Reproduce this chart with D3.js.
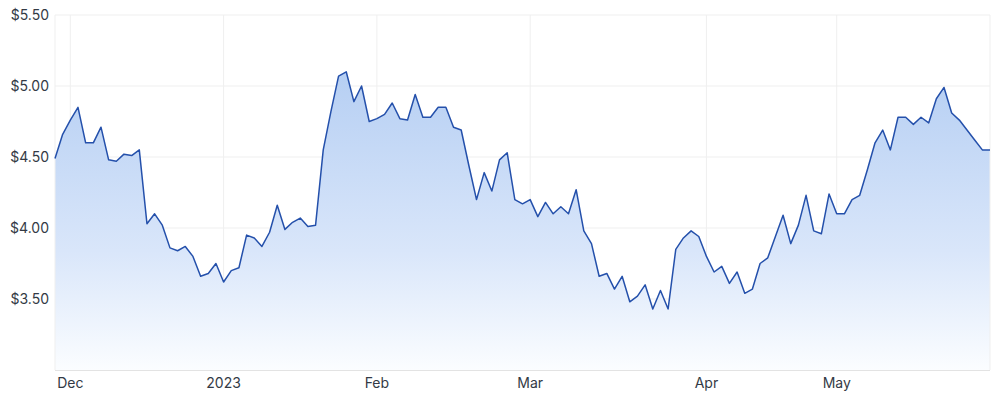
<!DOCTYPE html>
<html>
<head>
<meta charset="utf-8">
<script src="https://cdn.jsdelivr.net/npm/d3@7"></script>
<style>
  html, body { margin: 0; padding: 0; background: #ffffff; }
  svg { display: block; font-family: Inter, "Noto Sans", sans-serif; }
</style>
</head>
<body>
<svg id="chart" width="1000" height="402"></svg>
<script>
// Daily closing prices (ASX trading days, 29 Nov 2022 – 29 May 2023)
const prices = [
  4.49, 4.66, 4.76, 4.85, 4.60, 4.60, 4.71, 4.48, 4.47, 4.52,
  4.51, 4.55, 4.03, 4.10, 4.02, 3.86, 3.84, 3.87, 3.80, 3.66,
  3.68, 3.75, 3.62, 3.70, 3.72, 3.95, 3.93, 3.87, 3.97, 4.16,
  3.99, 4.04, 4.07, 4.01, 4.02, 4.55, 4.82, 5.07, 5.10, 4.89,
  5.00, 4.75, 4.77, 4.80, 4.88, 4.77, 4.76, 4.94, 4.78, 4.78,
  4.85, 4.85, 4.71, 4.69, 4.44, 4.20, 4.39, 4.26, 4.48, 4.53,
  4.20, 4.17, 4.20, 4.08, 4.18, 4.10, 4.15, 4.10, 4.27, 3.98,
  3.89, 3.66, 3.68, 3.57, 3.66, 3.48, 3.52, 3.60, 3.43, 3.56,
  3.43, 3.85, 3.93, 3.98, 3.94, 3.80, 3.69, 3.73, 3.61, 3.69,
  3.54, 3.57, 3.75, 3.79, 3.94, 4.09, 3.89, 4.02, 4.23, 3.98,
  3.96, 4.24, 4.10, 4.10, 4.20, 4.23, 4.41, 4.60, 4.69, 4.55,
  4.78, 4.78, 4.73, 4.78, 4.74, 4.91, 4.99, 4.81, 4.76, 4.69,
  4.62, 4.55, 4.55
];
// Month tick labels and the trading-day index of each month's first session
const monthLabels = ["Dec", "2023", "Feb", "Mar", "Apr", "May"];
const monthIndex = [2, 22, 42, 62, 85, 102];
// Y-axis ticks
const yTicks = [3.50, 4.00, 4.50, 5.00, 5.50];
const yDomain = [3.0, 5.5];

(function () {
const svg = d3.select("#chart");
const pLeft = 55, pRight = 990, pTop = 15, pBottom = 370;

const x = d3.scaleLinear().domain([0, prices.length - 1]).range([pLeft, pRight]);
const y = d3.scaleLinear().domain(yDomain).range([pBottom, pTop]);

// gradient
const defs = svg.append("defs");
const grad = defs.append("linearGradient")
  .attr("id", "areaGrad")
  .attr("gradientUnits", "userSpaceOnUse")
  .attr("x1", 0).attr("x2", 0)
  .attr("y1", y(5.1)).attr("y2", pBottom);
grad.append("stop").attr("offset", "0%").attr("stop-color", "#b6cff3");
grad.append("stop").attr("offset", "60%").attr("stop-color", "#d9e6fa");
grad.append("stop").attr("offset", "100%").attr("stop-color", "#fbfdff");

// horizontal grid
svg.append("g").selectAll("line").data(yTicks).join("line")
  .attr("x1", pLeft).attr("x2", pRight)
  .attr("y1", d => y(d)).attr("y2", d => y(d))
  .attr("stroke", "#efefef").attr("stroke-width", 1);

// vertical grid
svg.append("g").selectAll("line").data(monthIndex).join("line")
  .attr("x1", d => x(d)).attr("x2", d => x(d))
  .attr("y1", pTop).attr("y2", pBottom)
  .attr("stroke", "#efefef").attr("stroke-width", 1);

// area
const area = d3.area()
  .x((d, i) => x(i))
  .y0(pBottom)
  .y1(d => y(d));
svg.append("path").datum(prices)
  .attr("d", area)
  .attr("fill", "url(#areaGrad)");

// edge lines
svg.append("line")
  .attr("x1", pRight).attr("x2", pRight).attr("y1", pTop).attr("y2", pBottom)
  .attr("stroke", "#efefef");
svg.append("line")
  .attr("x1", pLeft).attr("x2", pLeft).attr("y1", pTop).attr("y2", pBottom)
  .attr("stroke", "#efefef");

// line
const line = d3.line()
  .x((d, i) => x(i))
  .y(d => y(d));
svg.append("path").datum(prices)
  .attr("d", line)
  .attr("fill", "none")
  .attr("stroke", "#2450ab")
  .attr("stroke-width", 1.5)
  .attr("stroke-linejoin", "round");

// x axis baseline
svg.append("line")
  .attr("x1", pLeft).attr("x2", pRight)
  .attr("y1", pBottom + 0.5).attr("y2", pBottom + 0.5)
  .attr("stroke", "#e3e3e3").attr("stroke-width", 1);

// y labels
const fmt = d3.format("$.2f");
svg.append("g").selectAll("text").data(yTicks).join("text")
  .attr("x", 49)
  .attr("y", d => y(d))
  .attr("dy", "0.35em")
  .attr("text-anchor", "end")
  .attr("font-size", 14)
  .attr("fill", "#333a45")
  .text(d => fmt(d));

// x labels
svg.append("g").selectAll("text").data(monthIndex).join("text")
  .attr("x", d => x(d))
  .attr("y", 388)
  .attr("text-anchor", "middle")
  .attr("font-size", 14)
  .attr("fill", "#333a45")
  .text((d, i) => monthLabels[i]);
})();
</script>
</body>
</html>
